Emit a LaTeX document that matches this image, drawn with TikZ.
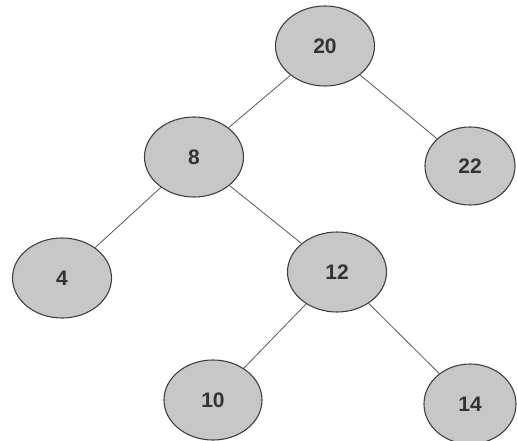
\documentclass[tikz,border=0pt]{standalone}
\usepackage{fontspec}
\setmainfont{Liberation Sans}
\usetikzlibrary{shapes.geometric}
\begin{document}
\begin{tikzpicture}[x=1pt,y=-1pt,
  treenode/.style={ellipse,draw=black!75,line width=1.1pt,fill=black!22,
    minimum width=99pt,minimum height=80pt,inner sep=0pt,
    font=\fontsize{21}{24}\selectfont\bfseries,text=black!80},
  edge/.style={draw=black!65,line width=0.8pt}]
\useasboundingbox (0,0) rectangle (517,441);
\node[treenode] (n20) at (325,46) {20};
\node[treenode] (n8) at (194,157) {8};
\node[treenode,minimum width=90pt,minimum height=78pt] (n22) at (470,166) {22};
\node[treenode] (n4) at (62,278) {4};
\node[treenode] (n12) at (337,272) {12};
\node[treenode,minimum width=98pt] (n10) at (213,400) {10};
\node[treenode,minimum width=92pt] (n14) at (470,404) {14};
\draw[edge] (n20) -- (n8);
\draw[edge] (n20) -- (n22);
\draw[edge] (n8) -- (n4);
\draw[edge] (n8) -- (n12);
\draw[edge] (n12) -- (n10);
\draw[edge] (n12) -- (n14);
\end{tikzpicture}
\end{document}
